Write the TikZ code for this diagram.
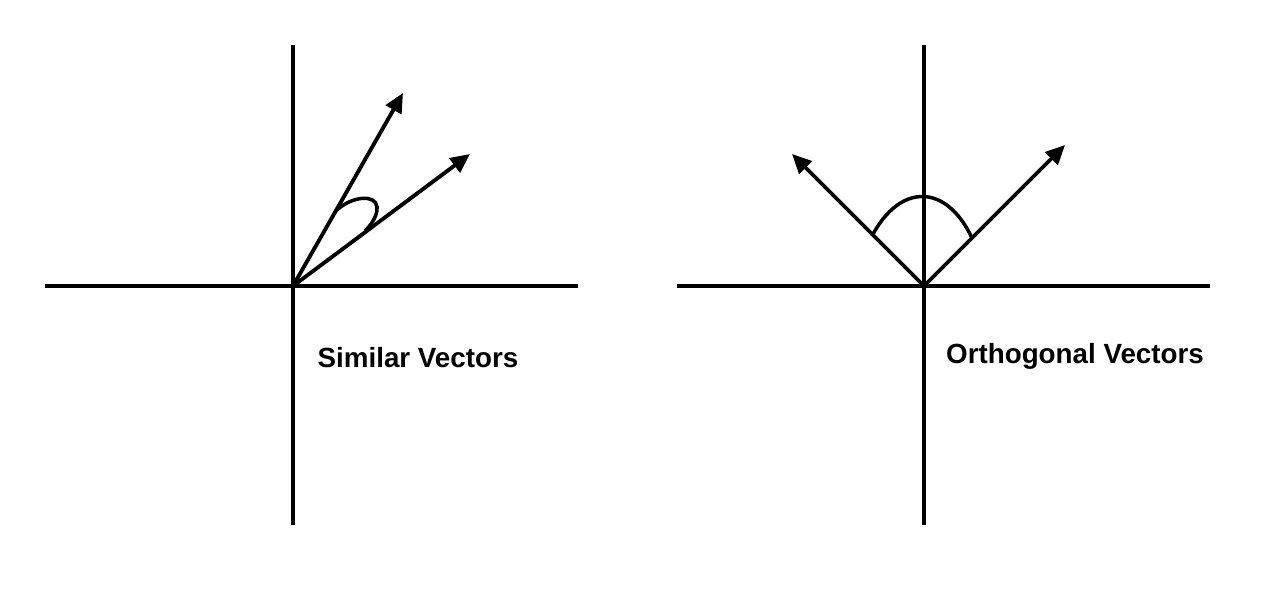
\documentclass[tikz,border=0pt]{standalone}
\usepackage{fontspec}
\setmainfont{Liberation Sans}
\usetikzlibrary{arrows.meta}
\begin{document}
\begin{tikzpicture}[x=0.02cm,y=-0.02cm,
  axis/.style={line width=2.3pt},
  vec/.style={line width=2.2pt,-{Triangle[length=11pt,width=10pt]}},
  anglearc/.style={line width=2pt},
  lbl/.style={font=\fontsize{15.8}{18}\selectfont\bfseries,inner sep=0pt}]
\useasboundingbox (0,0) rectangle (1278,605);
% left panel
\coordinate (Lo) at (293,286);
\coordinate (Lxl) at (45,286);
\coordinate (Lxr) at (578,286);
\coordinate (Lyt) at (293,45);
\coordinate (Lyb) at (293,525);
\coordinate (La) at (403,93);
\coordinate (Lb) at (470,154);
\draw[axis] (Lxl) -- (Lxr);
\draw[axis] (Lyt) -- (Lyb);
\draw[vec] (Lo) -- (La);
\draw[vec] (Lo) -- (Lb);
\coordinate (Ls) at (337,210);
\coordinate (Le) at (365,231);
\draw[anglearc] (Ls) .. controls (352,196) and (376,194) .. (377,207) .. controls (378,216) and (370,226) .. (Le);
\node[lbl] (Ltxt) at (418,358) {Similar Vectors};
% right panel
\coordinate (Ro) at (924,286);
\coordinate (Rxl) at (677,286);
\coordinate (Rxr) at (1210,286);
\coordinate (Ryt) at (924,45);
\coordinate (Ryb) at (924,525);
\coordinate (Ra) at (792,154);
\coordinate (Rb) at (1065,145);
\draw[axis] (Rxl) -- (Rxr);
\draw[axis] (Ryt) -- (Ryb);
\draw[vec] (Ro) -- (Ra);
\draw[vec] (Ro) -- (Rb);
\coordinate (Rs) at (872,236);
\coordinate (Re) at (972,238);
\draw[anglearc] (Rs) .. controls (900,183) and (946,183) .. (Re);
\node[lbl] (Rtxt) at (1075,356) {Orthogonal Vectors};
\end{tikzpicture}
\end{document}
